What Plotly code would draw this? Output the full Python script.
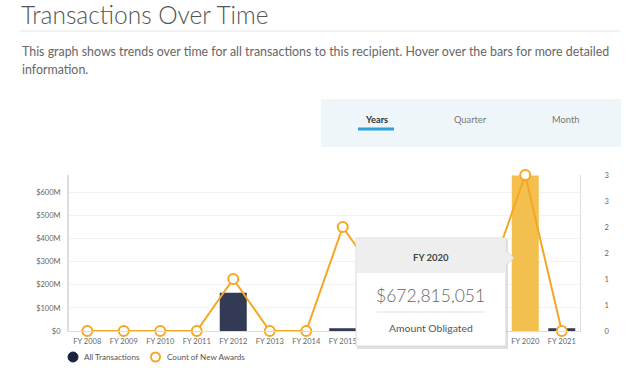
import plotly.graph_objects as go

categories = ["FY 2008", "FY 2009", "FY 2010", "FY 2011", "FY 2012", "FY 2013", "FY 2014",
              "FY 2015", "FY 2016", "FY 2017", "FY 2018", "FY 2019", "FY 2020", "FY 2021"]
amount_obligated = [0, 0, 0, 0, 165e6, 0, 0, 12e6, 0, 0, 0, 0, 672815051, 12e6]
new_awards = [0, 0, 0, 0, 1, 0, 0, 2, 1, 0, 0, 1, 3, 0]
left_tickvals = [0, 100e6, 200e6, 300e6, 400e6, 500e6, 600e6]
left_ticktext = ["$0", "$100M", "$200M", "$300M", "$400M", "$500M", "$600M"]
right_tickvals = [0, 0.5, 1, 1.5, 2, 2.5, 3]
right_ticktext = ["0", "1", "1", "2", "2", "3", "3"]
highlight = "FY 2020"

W, H = 640, 376
L, R, T, B = 69, 60, 175, 45
PW = W - L - R
PH = H - T - B

def px(x):
    return (x - L) / PW

def py(y):
    return (H - B - y) / PH

NAVY = "#323a55"
ORANGE = "#f5a623"
YELLOW = "#f3c04f"
FONT = "Lato"

bar_colors = [YELLOW if c == highlight else NAVY for c in categories]

fig = go.Figure()
fig.add_trace(go.Bar(x=categories, y=amount_obligated, marker_color=bar_colors,
                     marker_line_width=0, width=0.74, yaxis="y", name="All Transactions",
                     showlegend=False))
fig.add_trace(go.Scatter(x=categories, y=new_awards, yaxis="y2", mode="lines+markers",
                         line=dict(color=ORANGE, width=2),
                         marker=dict(size=10, color="white", line=dict(color=ORANGE, width=2)),
                         cliponaxis=False, name="Count of New Awards", showlegend=False))

shapes = []
annotations = []

# header
annotations.append(dict(text="Transactions Over Time", x=px(19), y=py(14), xref="paper", yref="paper",
                        xanchor="left", yanchor="middle", showarrow=False,
                        font=dict(family=FONT, size=24.5, color="#555555", weight=300)))
shapes.append(dict(type="line", xref="paper", yref="paper", x0=px(20), x1=px(620), y0=py(31), y1=py(31),
                   line=dict(color="#e6e6e6", width=1)))
annotations.append(dict(text="This graph shows trends over time for all transactions to this recipient. Hover over the bars for more detailed",
                        x=px(20), y=py(52), xref="paper", yref="paper", xanchor="left", yanchor="middle",
                        showarrow=False, font=dict(family=FONT, size=12.4, color="#666666")))
annotations.append(dict(text="information.", x=px(20), y=py(69), xref="paper", yref="paper",
                        xanchor="left", yanchor="middle", showarrow=False,
                        font=dict(family=FONT, size=12.4, color="#666666")))

# tabs
shapes.append(dict(type="rect", xref="paper", yref="paper", x0=px(321), x1=px(621), y0=py(99), y1=py(147),
                   fillcolor="#eef6fa", line=dict(width=0), layer="below"))
for label, cx, col, bold in [("Years", 376, "#333333", True), ("Quarter", 470, "#777777", False),
                             ("Month", 565, "#777777", False)]:
    annotations.append(dict(text=f"<b>{label}</b>" if bold else label, x=px(cx), y=py(119),
                            xref="paper", yref="paper", xanchor="center", yanchor="middle",
                            showarrow=False, font=dict(family=FONT, size=9.3, color=col)))
shapes.append(dict(type="line", xref="paper", yref="paper", x0=px(358), x1=px(394), y0=py(129), y1=py(129),
                   line=dict(color="#2aa3d8", width=3)))

# legend
shapes.append(dict(type="circle", xref="paper", yref="paper", x0=px(68), x1=px(78), y0=py(352), y1=py(362),
                   fillcolor="#1c2340", line=dict(color="#1c2340", width=1)))
annotations.append(dict(text="All Transactions", x=px(82), y=py(357), xref="paper", yref="paper",
                        xanchor="left", yanchor="middle", showarrow=False,
                        font=dict(family=FONT, size=8.1, color="#555555")))
shapes.append(dict(type="circle", xref="paper", yref="paper", x0=px(151), x1=px(160), y0=py(352.5), y1=py(361.5),
                   fillcolor="white", line=dict(color=ORANGE, width=2)))
annotations.append(dict(text="Count of New Awards", x=px(165), y=py(357), xref="paper", yref="paper",
                        xanchor="left", yanchor="middle", showarrow=False,
                        font=dict(family=FONT, size=8.1, color="#555555")))

# tooltip
tx0, tx1, ty0, ty1 = 356, 506, 238, 346
shapes.append(dict(type="rect", xref="paper", yref="paper", x0=px(tx0 + 1), x1=px(tx1 + 2), y0=py(ty0 + 1), y1=py(ty1 + 3),
                   fillcolor="rgba(0,0,0,0.12)", line=dict(width=0), layer="above"))
shapes.append(dict(type="rect", xref="paper", yref="paper", x0=px(tx0), x1=px(tx1), y0=py(ty0), y1=py(ty1),
                   fillcolor="white", line=dict(color="#d8d8d8", width=1), layer="above"))
shapes.append(dict(type="rect", xref="paper", yref="paper", x0=px(tx0 + 0.5), x1=px(tx1 - 0.5), y0=py(ty0 + 0.5), y1=py(273),
                   fillcolor="#eeeeee", line=dict(width=0), layer="above"))
shapes.append(dict(type="path", xref="paper", yref="paper",
                   path=f"M {px(tx1)},{py(251)} L {px(tx1 + 8)},{py(258)} L {px(tx1)},{py(265)} Z",
                   fillcolor="#eeeeee", line=dict(color="#d8d8d8", width=1), layer="above"))
shapes.append(dict(type="line", xref="paper", yref="paper", x0=px(tx1), x1=px(tx1), y0=py(252), y1=py(264),
                   line=dict(color="#eeeeee", width=2), layer="above"))
shapes.append(dict(type="line", xref="paper", yref="paper", x0=px(377), x1=px(485), y0=py(312), y1=py(312),
                   line=dict(color="#e0e0e0", width=1), layer="above"))
hi = categories.index(highlight)
annotations.append(dict(text=f"<b>{highlight}</b>", x=px(431), y=py(257), xref="paper", yref="paper",
                        xanchor="center", yanchor="middle", showarrow=False,
                        font=dict(family=FONT, size=9.5, color="#444444")))
annotations.append(dict(text=f"${amount_obligated[hi]:,.0f}", x=px(430), y=py(295), xref="paper", yref="paper",
                        xanchor="center", yanchor="middle", showarrow=False,
                        font=dict(family=FONT, size=17.5, color="#666666", weight=300)))
annotations.append(dict(text="Amount Obligated", x=px(431), y=py(328), xref="paper", yref="paper",
                        xanchor="center", yanchor="middle", showarrow=False,
                        font=dict(family=FONT, size=10.4, color="#555555")))

ymax = 675e6
fig.update_layout(
    width=W, height=H, margin=dict(l=L, r=R, t=T, b=B),
    paper_bgcolor="white", plot_bgcolor="white",
    font=dict(family=FONT, color="#666666", size=7.5),
    showlegend=False, bargap=0.26,
    xaxis=dict(type="category", categoryorder="array", categoryarray=categories,
               range=[-0.5, len(categories) - 0.5], showgrid=False, showline=True,
               linecolor="#dddddd", linewidth=1, ticks="outside", ticklen=3,
               tickcolor="rgba(0,0,0,0)", tickfont=dict(size=7.5, color="#666666"),
               fixedrange=True),
    yaxis=dict(range=[0, ymax], tickvals=left_tickvals, ticktext=left_ticktext,
               showgrid=True, gridcolor="#f3f3f3", gridwidth=1, zeroline=False,
               showline=True, linecolor="#dddddd", linewidth=2, ticks="outside", ticklen=5,
               tickcolor="rgba(0,0,0,0)", tickfont=dict(size=7.5, color="#666666")),
    yaxis2=dict(range=[0, 3], overlaying="y", side="right", tickvals=right_tickvals,
                ticktext=right_ticktext, showgrid=False, zeroline=False, showline=True,
                linecolor="#dddddd", linewidth=1, ticks="outside", ticklen=22,
                tickcolor="rgba(0,0,0,0)", tickfont=dict(size=7.5, color="#666666")),
    shapes=shapes, annotations=annotations,
)

fig.write_html("out.html", config={"displayModeBar": False},
               post_script="document.body.style.margin='0';document.body.style.overflow='hidden';")
